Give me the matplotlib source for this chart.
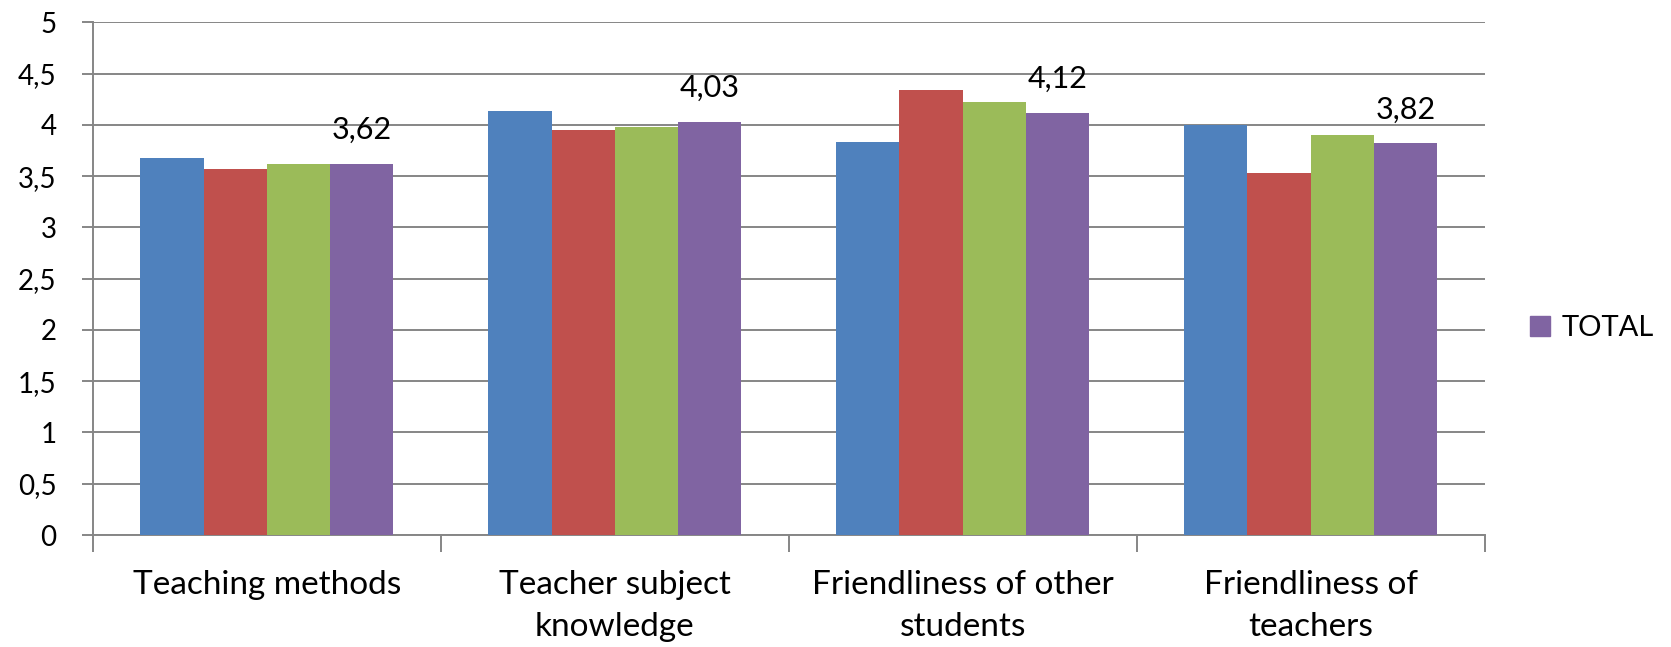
import matplotlib
matplotlib.use("Agg")
import matplotlib.pyplot as plt
import numpy as np
from matplotlib.ticker import FuncFormatter, FixedLocator
from matplotlib.patches import Patch

categories = ["Teaching methods", "Teacher subject\nknowledge",
              "Friendliness of other\nstudents", "Friendliness of\nteachers"]
series_a = [3.68, 4.14, 3.83, 4.00]
series_b = [3.57, 3.95, 4.34, 3.53]
series_c = [3.62, 3.98, 4.22, 3.90]
total = [3.62, 4.03, 4.12, 3.82]
y_ticks = [0, 0.5, 1, 1.5, 2, 2.5, 3, 3.5, 4, 4.5, 5]

colors = ["#4F81BD", "#C0504D", "#9BBB59", "#8064A2"]
plt.rcParams["font.family"] = ["Lato", "DejaVu Sans"]

fig = plt.figure(figsize=(16.71, 6.47), dpi=100)
ax = fig.add_axes([0.0555, 0.1731, 0.8329, 0.7923])

x = np.arange(len(categories))
w = 0.1815
all_series = [series_a, series_b, series_c, total]
for i, (vals, col) in enumerate(zip(all_series, colors)):
    ax.bar(x + (i - 1.5) * w, vals, width=w, color=col, zorder=3)

# value labels over the TOTAL bars
for xi, v in zip(x + 1.5 * w, total):
    ax.annotate(f"{v:.2f}".replace(".", ","), (xi, v), xytext=(0, 18),
                textcoords="offset points", ha="center", va="baseline",
                fontsize=22, color="black")

ax.set_ylim(0, 5)
ax.set_xlim(-0.5, len(categories) - 0.5)
ax.yaxis.set_major_locator(FixedLocator(y_ticks))
ax.yaxis.set_major_formatter(FuncFormatter(lambda v, p: f"{v:g}".replace(".", ",")))
ax.grid(axis="y", color="#868686", linewidth=1.4, zorder=0)

ax.set_xticks(x)
ax.set_xticklabels(categories, fontsize=24, linespacing=1.5)
ax.set_xticks(np.arange(-0.5, len(categories), 1.0), minor=True)
ax.tick_params(axis="x", which="major", length=0, pad=25)
ax.tick_params(axis="x", which="minor", length=12, width=1.4, color="#868686")
ax.tick_params(axis="y", length=8, width=1.4, color="#868686", pad=18, labelsize=20)

for s in ["top", "right"]:
    ax.spines[s].set_visible(False)
for s in ["left", "bottom"]:
    ax.spines[s].set_color("#868686")
    ax.spines[s].set_linewidth(1.4)

fig.legend(handles=[Patch(color=colors[3], label="TOTAL")], loc="center left",
           bbox_to_anchor=(1530 / 1671, 1 - 328 / 647), frameon=False,
           fontsize=21, handlelength=0.7, handleheight=0.7, handletextpad=0.4,
           borderpad=0, borderaxespad=0)

fig.savefig("out.png", dpi=100)
